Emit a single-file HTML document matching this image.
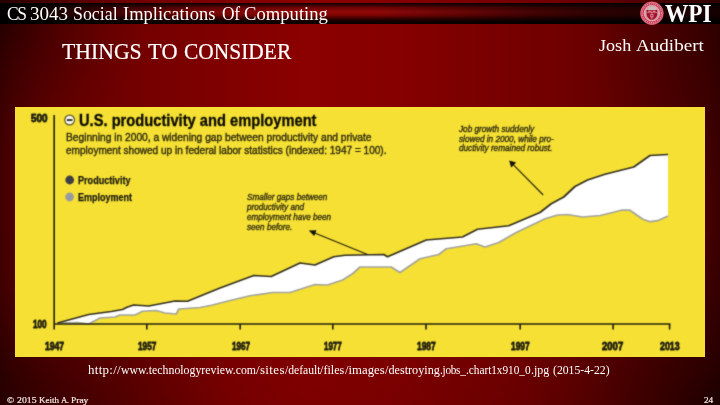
<!DOCTYPE html>
<html><head><meta charset="utf-8"><title>Things To Consider</title>
<style>
html,body{margin:0;padding:0;}
body{width:720px;height:405px;overflow:hidden;position:relative;background:#5a0000;font-family:"Liberation Sans",sans-serif;}
#bg{position:absolute;left:0;top:0;width:720px;height:405px;
 background:
  radial-gradient(circle at 0px 10px,rgba(0,0,0,.46) 0px,rgba(0,0,0,.2) 60px,rgba(0,0,0,.06) 110px,rgba(0,0,0,0) 150px),
  radial-gradient(ellipse 235px 190px at 735px 420px,rgba(0,0,0,.6) 0%,rgba(0,0,0,.3) 30%,rgba(0,0,0,.13) 60%,rgba(0,0,0,0) 100%),
  radial-gradient(ellipse 140px 180px at 730px 15px,rgba(0,0,0,.28) 0%,rgba(0,0,0,.18) 35%,rgba(0,0,0,.09) 65%,rgba(0,0,0,0) 100%),
  radial-gradient(ellipse 240px 130px at -10px 415px,rgba(0,0,0,.38) 0%,rgba(0,0,0,.31) 30%,rgba(0,0,0,.17) 60%,rgba(0,0,0,0) 100%),
  linear-gradient(180deg,rgba(0,0,0,0) 55%,rgba(0,0,0,.10) 100%),
  linear-gradient(90deg,#400000 0%,#4e0000 2%,#5a0000 5%,#640000 9%,#6c0000 14%,#7a0000 25%,#8b0000 42%,#860000 55%,#7a0000 67%,#700000 78%,#640000 84%,#4e0000 94.5%,#460000 98%,#3c0000 100%);}
#bar{position:absolute;left:0;top:3px;width:720px;height:20.7px;
 background:linear-gradient(180deg,#160000 0%,#2a0000 8%,#6e0202 22%,#920909 42%,#7e0303 58%,#3a0000 74%,#120000 86%,#0a0000 100%);}
#barfade{position:absolute;left:0;top:3px;width:720px;height:20.7px;
 background:linear-gradient(90deg,rgba(0,0,0,1) 0%,rgba(0,0,0,.92) 5%,rgba(0,0,0,.55) 15%,rgba(0,0,0,0.18) 27%,rgba(0,0,0,0) 40%,rgba(0,0,0,0) 52%,rgba(0,0,0,0.25) 63%,rgba(0,0,0,.5) 73%,rgba(0,0,0,.68) 83%,rgba(0,0,0,.85) 100%);}
#chart{position:absolute;left:15px;top:107px;width:690px;height:249.5px;background:#f5e033;}
svg{position:absolute;left:0;top:0;}
#tx{position:absolute;left:0;top:0;width:720px;height:405px;will-change:transform;}
#cw{position:absolute;left:0;top:0;width:720px;height:405px;filter:url(#soft);}
.t{position:absolute;white-space:nowrap;line-height:1;transform-origin:0 0;}
</style></head>
<body>
<div id="bg"></div>
<div id="bar"></div><div id="barfade"></div>
<div id="chart"></div>
<svg width="0" height="0" style="position:absolute"><defs><filter id="soft" x="0" y="0" width="100%" height="100%" color-interpolation-filters="sRGB"><feConvolveMatrix order="3" kernelMatrix="0.0225 0.105 0.0225 0.105 0.49 0.105 0.0225 0.105 0.0225" edgeMode="duplicate" preserveAlpha="false"/></filter></defs></svg>
<div id="cw">
<svg width="720" height="405" viewBox="0 0 720 405">
 <!-- white gap -->
 <path id="gap" fill="#ffffff" d="M57.5,323 L88.75,314.5 L111.25,311.5 L122.5,309.5 L127.5,307 L133.75,305 L148.75,306 L175,301 L187.5,301.25 L220,288 L253.75,275.5 L271.25,276.5 L300,263 L315,265 L333.75,256.75 L345,255.25 L383.75,254.5 L387.5,256.75 L426.25,240 L462.5,237 L477.5,229.25 L508.75,225.75 L540,212.5 L551.25,203.75 L563.75,197 L575,186.5 L587.5,180 L605,174.25 L633.75,167 L650,155.5 L668,154.5
  L668,216 L657.5,220.7 L650,221.7 L642.5,219 L630,210.2 L621.25,210.2 L612.5,212.5 L600,215.5 L582.5,217 L567.5,214.5 L557.5,215 L545,218.75 L516.25,232.5 L498.75,242.5 L485,247 L476.25,243.75 L446.25,248.75 L438.75,254.5 L420,258.75 L400,272.5 L391.25,267 L360,267 L352.5,273.75 L342.5,280 L327.5,285 L315,284.5 L290,292.5 L272.5,292.5 L250,295.75 L230,300.5 L212.5,305 L200,307.5 L178.75,309 L176.25,314 L165,313 L156.25,310.5 L142.5,311.25 L135,315 L120,315 L115,317 L100,318 L88.75,324 L77.5,322.5 Z"/>
 <!-- employment line -->
 <path fill="none" stroke="#a4a49c" stroke-width="1.7" stroke-linejoin="round" d="M57.5,323.2 L77.5,322.5 L88.75,324 L100,318 L115,317 L120,315 L135,315 L142.5,311.25 L156.25,310.5 L165,313 L176.25,314 L178.75,309 L200,307.5 L212.5,305 L230,300.5 L250,295.75 L272.5,292.5 L290,292.5 L315,284.5 L327.5,285 L342.5,280 L352.5,273.75 L360,267 L391.25,267 L400,272.5 L420,258.75 L438.75,254.5 L446.25,248.75 L476.25,243.75 L485,247 L498.75,242.5 L516.25,232.5 L545,218.75 L557.5,215 L567.5,214.5 L582.5,217 L600,215.5 L612.5,212.5 L621.25,210.2 L630,210.2 L642.5,219 L650,221.7 L657.5,220.7 L668,216"/>
 <!-- productivity line -->
 <path fill="none" stroke="#35311f" stroke-width="1.75" stroke-linejoin="round" d="M57.5,323 L88.75,314.5 L111.25,311.5 L122.5,309.5 L127.5,307 L133.75,305 L148.75,306 L175,301 L187.5,301.25 L220,288 L253.75,275.5 L271.25,276.5 L300,263 L315,265 L333.75,256.75 L345,255.25 L383.75,254.5 L387.5,256.75 L426.25,240 L462.5,237 L477.5,229.25 L508.75,225.75 L540,212.5 L551.25,203.75 L563.75,197 L575,186.5 L587.5,180 L605,174.25 L633.75,167 L650,155.5 L668,154.5"/>
 <!-- axes -->
 <g stroke="#25220f" stroke-width="1.65" fill="none">
  <path d="M54.2,115 V329.5"/>
  <path d="M54.2,324 H670.4"/>
  <path d="M146.8,324 v5.4 M240.2,324 v5.4 M332.8,324 v5.4 M426,324 v5.4 M520.2,324 v5.4 M613.1,324 v5.4 M669.6,324 v5.4"/>
 </g>
 <!-- arrows -->
 <g stroke="#25220f" stroke-width="1.1" fill="#111">
  <path d="M367.5,254.5 L311,231.5" fill="none"/>
  <path d="M308.75,230.6 L316.5,230.3 L314.2,236 Z" stroke="none"/>
  <path d="M543.2,195 L511.5,162.8" fill="none"/>
  <path d="M509.2,160.4 L516.2,162.4 L511.1,167.5 Z" stroke="none"/>
 </g>
 <!-- legend dots -->
 <circle cx="69.7" cy="180" r="4.4" fill="#3d3f46"/>
 <circle cx="69.6" cy="197" r="4.4" fill="#989ca2"/>
 <!-- minus icon -->
 <circle cx="69.6" cy="120" r="4.9" fill="#f4f3ec" stroke="#5e5828" stroke-width="1.2"/>
 <rect x="66.8" y="119.1" width="5.6" height="1.9" fill="#333"/>
</svg>
<div class="t" id="t29" style="left:78.60px;top:112.70px;font-size:16px;font-family:'Liberation Sans', sans-serif;font-weight:bold;font-style:normal;color:#0c0b02;transform:scaleX(0.9180);-webkit-text-stroke:.3px #0c0b02;">U.S. productivity and employment</div>
<div class="t" id="t30" style="left:65.50px;top:131.71px;font-size:10.8px;font-family:'Liberation Sans', sans-serif;font-weight:normal;font-style:normal;color:#322d10;transform:scaleX(0.9460);-webkit-text-stroke:.4px #322d10;">Beginning in 2000, a widening gap between productivity and private</div>
<div class="t" id="t31" style="left:65.50px;top:144.50px;font-size:10.8px;font-family:'Liberation Sans', sans-serif;font-weight:normal;font-style:normal;color:#322d10;transform:scaleX(0.9311);-webkit-text-stroke:.4px #322d10;">employment showed up in federal labor statistics (indexed: 1947 = 100).</div>
<div class="t" id="t32" style="left:77.80px;top:174.80px;font-size:10.6px;font-family:'Liberation Sans', sans-serif;font-weight:bold;font-style:normal;color:#1c1b10;transform:scaleX(0.8574);-webkit-text-stroke:.25px #1c1b10;">Productivity</div>
<div class="t" id="t33" style="left:77.80px;top:191.80px;font-size:10.6px;font-family:'Liberation Sans', sans-serif;font-weight:bold;font-style:normal;color:#1c1b10;transform:scaleX(0.8493);-webkit-text-stroke:.25px #1c1b10;">Employment</div>
<div class="t" id="t34" style="left:247.00px;top:193.01px;font-size:8.3px;font-family:'Liberation Sans', sans-serif;font-weight:normal;font-style:italic;color:#332e12;transform:scaleX(0.9792);-webkit-text-stroke:.35px #332e12;">Smaller gaps between</div>
<div class="t" id="t35" style="left:247.00px;top:203.01px;font-size:8.3px;font-family:'Liberation Sans', sans-serif;font-weight:normal;font-style:italic;color:#332e12;transform:scaleX(0.9800);-webkit-text-stroke:.35px #332e12;">productivity and</div>
<div class="t" id="t36" style="left:247.00px;top:213.01px;font-size:8.3px;font-family:'Liberation Sans', sans-serif;font-weight:normal;font-style:italic;color:#332e12;transform:scaleX(0.9737);-webkit-text-stroke:.35px #332e12;">employment have been</div>
<div class="t" id="t37" style="left:247.00px;top:222.51px;font-size:8.3px;font-family:'Liberation Sans', sans-serif;font-weight:normal;font-style:italic;color:#332e12;transform:scaleX(0.9800);-webkit-text-stroke:.35px #332e12;">seen before.</div>
<div class="t" id="t38" style="left:458.75px;top:124.81px;font-size:8.3px;font-family:'Liberation Sans', sans-serif;font-weight:normal;font-style:italic;color:#332e12;transform:scaleX(0.9880);-webkit-text-stroke:.35px #332e12;">Job growth suddenly</div>
<div class="t" id="t39" style="left:458.75px;top:134.51px;font-size:8.3px;font-family:'Liberation Sans', sans-serif;font-weight:normal;font-style:italic;color:#332e12;transform:scaleX(0.9876);-webkit-text-stroke:.35px #332e12;">slowed in 2000, while pro-</div>
<div class="t" id="t40" style="left:458.75px;top:144.41px;font-size:8.3px;font-family:'Liberation Sans', sans-serif;font-weight:normal;font-style:italic;color:#332e12;transform:scaleX(0.9880);-webkit-text-stroke:.35px #332e12;">ductivity remained robust.</div>
<div class="t" id="t41" style="left:30.60px;top:113.10px;font-size:10.8px;font-family:'Liberation Sans', sans-serif;font-weight:bold;font-style:normal;color:#1c1b10;transform:scaleX(0.9214);-webkit-text-stroke:.8px #1c1b10;">500</div>
<div class="t" id="t42" style="left:33.30px;top:319.21px;font-size:10.5px;font-family:'Liberation Sans', sans-serif;font-weight:bold;font-style:normal;color:#1c1b10;transform:scaleX(0.7758);-webkit-text-stroke:.8px #1c1b10;">100</div>
<div class="t" id="t43" style="left:44.60px;top:340.60px;font-size:10.8px;font-family:'Liberation Sans', sans-serif;font-weight:bold;font-style:normal;color:#1c1b10;transform:scaleX(0.7948);-webkit-text-stroke:.8px #1c1b10;">1947</div>
<div class="t" id="t44" style="left:138.10px;top:340.60px;font-size:10.8px;font-family:'Liberation Sans', sans-serif;font-weight:bold;font-style:normal;color:#1c1b10;transform:scaleX(0.7657);-webkit-text-stroke:.8px #1c1b10;">1957</div>
<div class="t" id="t45" style="left:231.50px;top:340.60px;font-size:10.8px;font-family:'Liberation Sans', sans-serif;font-weight:bold;font-style:normal;color:#1c1b10;transform:scaleX(0.7532);-webkit-text-stroke:.8px #1c1b10;">1967</div>
<div class="t" id="t46" style="left:324.20px;top:340.60px;font-size:10.8px;font-family:'Liberation Sans', sans-serif;font-weight:bold;font-style:normal;color:#1c1b10;transform:scaleX(0.7365);-webkit-text-stroke:.8px #1c1b10;">1977</div>
<div class="t" id="t47" style="left:416.70px;top:340.60px;font-size:10.8px;font-family:'Liberation Sans', sans-serif;font-weight:bold;font-style:normal;color:#1c1b10;transform:scaleX(0.7782);-webkit-text-stroke:.8px #1c1b10;">1987</div>
<div class="t" id="t48" style="left:511.00px;top:340.60px;font-size:10.8px;font-family:'Liberation Sans', sans-serif;font-weight:bold;font-style:normal;color:#1c1b10;transform:scaleX(0.7740);-webkit-text-stroke:.8px #1c1b10;">1997</div>
<div class="t" id="t49" style="left:602.30px;top:340.60px;font-size:10.8px;font-family:'Liberation Sans', sans-serif;font-weight:bold;font-style:normal;color:#1c1b10;transform:scaleX(0.8822);-webkit-text-stroke:.8px #1c1b10;">2007</div>
<div class="t" id="t50" style="left:659.60px;top:340.60px;font-size:10.8px;font-family:'Liberation Sans', sans-serif;font-weight:bold;font-style:normal;color:#1c1b10;transform:scaleX(0.8156);-webkit-text-stroke:.8px #1c1b10;">2013</div>
</div>
<svg width="720" height="405" viewBox="0 0 720 405">
 <!-- WPI seal -->
 <g transform="translate(651.9,13.2)">
  <circle r="11.7" fill="#cb3d58"/>
  <circle r="11" fill="none" stroke="#dc7f8e" stroke-width=".7"/>
  <circle r="9.6" fill="none" stroke="#de8c99" stroke-width="1.3" stroke-dasharray="1.2 .9"/>
  <circle r="8.2" fill="#e2aab3"/>
  <circle r="7.4" fill="#d7a0a9"/>
  <ellipse cx="0" cy="-4.9" rx="4.3" ry="1.6" fill="#c7bcbc"/>
  <path d="M-5.4,-3.3 H5.4 V1.2 Q5.2,5 0,7 Q-5.2,5 -5.4,1.2 Z" fill="#a5142f"/>
  <path d="M-5.4,-0.6 H5.4 M0,-3.3 V6.8" stroke="#d98e99" stroke-width=".7" fill="none"/>
  <rect x="-3.6" y="-2.6" width="2.4" height="1.3" fill="#d98e99"/>
  <rect x="1.2" y="-2.6" width="2.4" height="1.3" fill="#d98e99"/>
  <rect x="-1.5" y="1" width="3" height="3.2" fill="#e0929d"/>
  <rect x="-.6" y="1.7" width="1.2" height="1.6" fill="#a5142f"/>
 </g>
</svg>
<div id="tx"><div class="t" id="t0" style="left:7.20px;top:5.71px;font-size:17.8px;font-family:'Liberation Serif', serif;font-weight:normal;font-style:normal;color:#ffffff;transform:scaleX(0.9800);letter-spacing:-1.385px;">CS</div>
<div class="t" id="t1" style="left:30.20px;top:5.71px;font-size:17.8px;font-family:'Liberation Serif', serif;font-weight:normal;font-style:normal;color:#ffffff;transform:scaleX(1.0700);letter-spacing:0.011px;">3043</div>
<div class="t" id="t2" style="left:72.70px;top:5.71px;font-size:17.8px;font-family:'Liberation Serif', serif;font-weight:normal;font-style:normal;color:#ffffff;transform:scaleX(1.0033);">Social</div>
<div class="t" id="t3" style="left:123.45px;top:5.71px;font-size:17.8px;font-family:'Liberation Serif', serif;font-weight:normal;font-style:normal;color:#ffffff;transform:scaleX(1.0389);">Implications</div>
<div class="t" id="t4" style="left:222.20px;top:5.71px;font-size:17.8px;font-family:'Liberation Serif', serif;font-weight:normal;font-style:normal;color:#ffffff;transform:scaleX(0.9800);letter-spacing:-0.403px;">Of</div>
<div class="t" id="t5" style="left:244.20px;top:5.71px;font-size:17.8px;font-family:'Liberation Serif', serif;font-weight:normal;font-style:normal;color:#ffffff;transform:scaleX(1.0483);">Computing</div>
<div class="t" id="t6" style="left:61.60px;top:40.01px;font-size:23.5px;font-family:'Liberation Serif', serif;font-weight:normal;font-style:normal;color:#ffffff;transform:scaleX(0.9249);-webkit-text-stroke:.2px #fff;">THINGS</div>
<div class="t" id="t7" style="left:147.60px;top:40.01px;font-size:23.5px;font-family:'Liberation Serif', serif;font-weight:normal;font-style:normal;color:#ffffff;transform:scaleX(0.9500);-webkit-text-stroke:.2px #fff;letter-spacing:0.178px;">TO</div>
<div class="t" id="t8" style="left:184.10px;top:40.01px;font-size:23.5px;font-family:'Liberation Serif', serif;font-weight:normal;font-style:normal;color:#ffffff;transform:scaleX(0.9122);-webkit-text-stroke:.2px #fff;">CONSIDER</div>
<div class="t" id="t9" style="left:598.70px;top:36.82px;font-size:17px;font-family:'Liberation Serif', serif;font-weight:normal;font-style:normal;color:#ffffff;transform:scaleX(1.0650);">Josh</div>
<div class="t" id="t10" style="left:636.30px;top:36.82px;font-size:17px;font-family:'Liberation Serif', serif;font-weight:normal;font-style:normal;color:#ffffff;transform:scaleX(1.1218);">Audibert</div>
<div class="t" id="t11" style="left:665.20px;top:0.80px;font-size:25px;font-family:'Liberation Serif', serif;font-weight:bold;font-style:normal;color:#ffffff;transform:scaleX(0.9320);">WPI</div>
<div class="t" id="t12" style="left:87.80px;top:364.26px;font-size:12px;font-family:'Liberation Serif', serif;font-weight:normal;font-style:normal;color:#ffffff;transform:scaleX(1.0800);letter-spacing:0.256px;">http://</div>
<div class="t" id="t13" style="left:120.70px;top:364.26px;font-size:12px;font-family:'Liberation Serif', serif;font-weight:normal;font-style:normal;color:#ffffff;transform:scaleX(0.9848);">www.technologyreview.com</div>
<div class="t" id="t14" style="left:255.80px;top:364.26px;font-size:12px;font-family:'Liberation Serif', serif;font-weight:normal;font-style:normal;color:#ffffff;transform:scaleX(1.0800);letter-spacing:0.332px;">/sites</div>
<div class="t" id="t15" style="left:284.60px;top:364.26px;font-size:12px;font-family:'Liberation Serif', serif;font-weight:normal;font-style:normal;color:#ffffff;transform:scaleX(0.9712);">/default</div>
<div class="t" id="t16" style="left:320.20px;top:364.26px;font-size:12px;font-family:'Liberation Serif', serif;font-weight:normal;font-style:normal;color:#ffffff;transform:scaleX(1.0125);">/files</div>
<div class="t" id="t17" style="left:344.50px;top:364.26px;font-size:12px;font-family:'Liberation Serif', serif;font-weight:normal;font-style:normal;color:#ffffff;transform:scaleX(1.0635);">/images</div>
<div class="t" id="t18" style="left:384.50px;top:364.26px;font-size:12px;font-family:'Liberation Serif', serif;font-weight:normal;font-style:normal;color:#ffffff;transform:scaleX(1.0167);">/destroying</div>
<div class="t" id="t19" style="left:439.80px;top:364.26px;font-size:12px;font-family:'Liberation Serif', serif;font-weight:normal;font-style:normal;color:#ffffff;transform:scaleX(0.9400);letter-spacing:-0.297px;">.jobs_</div>
<div class="t" id="t20" style="left:466.20px;top:364.26px;font-size:12px;font-family:'Liberation Serif', serif;font-weight:normal;font-style:normal;color:#ffffff;transform:scaleX(0.9400);letter-spacing:-0.020px;">.chart1x910_0</div>
<div class="t" id="t21" style="left:531.20px;top:364.26px;font-size:12px;font-family:'Liberation Serif', serif;font-weight:normal;font-style:normal;color:#ffffff;transform:scaleX(0.9976);">.jpg</div>
<div class="t" id="t22" style="left:552.60px;top:364.26px;font-size:12px;font-family:'Liberation Serif', serif;font-weight:normal;font-style:normal;color:#ffffff;transform:scaleX(0.9761);">(2015-4-22)</div>
<div class="t" id="t23" style="left:6.80px;top:395.71px;font-size:9px;font-family:'Liberation Serif', serif;font-weight:normal;font-style:normal;color:#f4e8e8;transform:scaleX(1.0521);-webkit-text-stroke:.2px #f4e8e8;">©</div>
<div class="t" id="t24" style="left:16.60px;top:395.71px;font-size:9px;font-family:'Liberation Serif', serif;font-weight:normal;font-style:normal;color:#f4e8e8;transform:scaleX(1.0800);-webkit-text-stroke:.2px #f4e8e8;letter-spacing:0.037px;">2015</div>
<div class="t" id="t25" style="left:39.10px;top:395.71px;font-size:9px;font-family:'Liberation Serif', serif;font-weight:normal;font-style:normal;color:#f4e8e8;transform:scaleX(0.9950);-webkit-text-stroke:.2px #f4e8e8;">Keith</div>
<div class="t" id="t26" style="left:61.30px;top:395.71px;font-size:9px;font-family:'Liberation Serif', serif;font-weight:normal;font-style:normal;color:#f4e8e8;transform:scaleX(0.9700);-webkit-text-stroke:.2px #f4e8e8;letter-spacing:-0.509px;">A.</div>
<div class="t" id="t27" style="left:70.60px;top:395.71px;font-size:9px;font-family:'Liberation Serif', serif;font-weight:normal;font-style:normal;color:#f4e8e8;transform:scaleX(1.0485);-webkit-text-stroke:.2px #f4e8e8;">Pray</div>
<div class="t" id="t28" style="left:703.90px;top:396.31px;font-size:9px;font-family:'Liberation Serif', serif;font-weight:normal;font-style:normal;color:#f4e8e8;transform:scaleX(1.0222);-webkit-text-stroke:.2px #f4e8e8;">24</div></div>
</body></html>
